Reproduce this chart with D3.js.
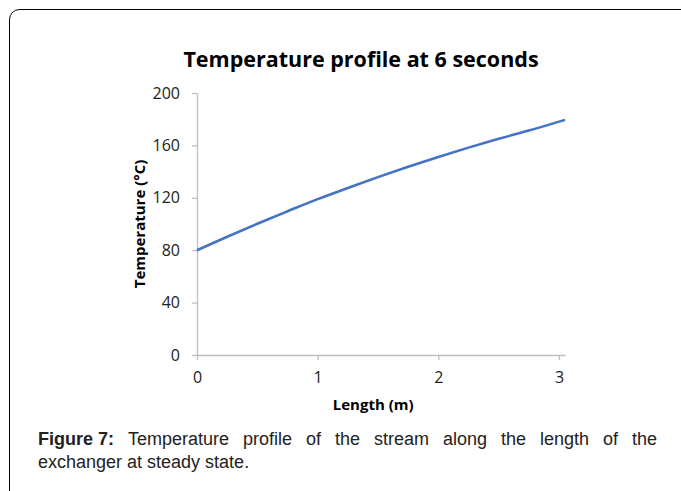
<!DOCTYPE html>
<html>
<head>
<meta charset="utf-8">
<script src="https://cdn.jsdelivr.net/npm/d3@7"></script>
<style>
  body { margin: 0; background: #fff; }
</style>
</head>
<body>
<div id="chart-area"></div>
<script>
// values
let lengths = [0, 0.25, 0.5, 0.75, 1, 1.25, 1.5, 1.75, 2, 2.25, 2.5, 2.75, 3.05];
let temps = [80, 90.3, 100.2, 109.7, 119, 127.5, 135.8, 143.7, 151.2, 158.3, 165, 171.3, 179.5];
let xTicks = [0, 1, 2, 3];
let yTicks = [0, 40, 80, 120, 160, 200];

let W = 681, H = 491;
let margin = { left: 197, right: 116, top: 93, bottom: 136 };
let width = W - margin.left - margin.right,
    height = H - margin.top - margin.bottom;

let svg = d3.select("#chart-area")
    .append("svg")
        .attr("width", W)
        .attr("height", H);

// frame round the figure
svg.append("rect")
    .attr("x", 9.5)
    .attr("y", 9.5)
    .attr("width", 720)
    .attr("height", 520)
    .attr("rx", 10)
    .attr("fill", "none")
    .attr("stroke", "#000")
    .attr("stroke-width", 1);

svg.append("text")
    .attr("x", 361)
    .attr("y", 67)
    .attr("text-anchor", "middle")
    .attr("font-family", "Open Sans")
    .attr("font-weight", "bold")
    .attr("font-size", "21.5px")
    .text("Temperature profile at 6 seconds");

let g = svg.append("g")
    .attr("transform", `translate( ${margin.left}, ${margin.top} )`);

let x = d3.scaleLinear()
    .domain([0, 3.05])
    .range([0, width]);

let y = d3.scaleLinear()
    .domain([0, 200])
    .range([height, 0]);

let xAxisCall = d3.axisBottom(x)
    .tickValues(xTicks)
    .tickSize(5)
    .tickSizeOuter(0)
    .tickPadding(12)
    .tickFormat(d3.format("d"));

let yAxisCall = d3.axisLeft(y)
    .tickValues(yTicks)
    .tickSize(5)
    .tickSizeOuter(0)
    .tickPadding(12);

let xAx = g.append("g")
    .attr("class", "x axis")
    .attr("transform", `translate(0, ${height})`)
    .call(xAxisCall);

let yAx = g.append("g")
    .attr("class", "y axis")
    .call(yAxisCall);

[xAx, yAx].forEach((a) => {
    a.selectAll("path, line").attr("stroke", "#bfbfbf").attr("stroke-width", 1.3);
    a.selectAll("text")
        .attr("font-family", "Open Sans")
        .attr("font-size", "16px")
        .attr("fill", "#222");
});

g.append("text")
    .attr("x", x(1.46))
    .attr("y", height + 55)
    .attr("text-anchor", "middle")
    .attr("font-family", "Open Sans")
    .attr("font-weight", "bold")
    .attr("font-size", "15px")
    .text("Length (m)");

g.append("text")
    .attr("x", -(height / 2))
    .attr("y", -52)
    .attr("text-anchor", "middle")
    .attr("transform", "rotate(-90)")
    .attr("font-family", "Open Sans")
    .attr("font-weight", "bold")
    .attr("font-size", "15px")
    .text("Temperature (\u00B0C)");

let pts = lengths.map((d, i) => [d, temps[i]]);
let line = d3.line()
    .x((d) => x(d[0]))
    .y((d) => y(d[1]))
    .curve(d3.curveMonotoneX);

g.append("path")
    .datum(pts)
    .attr("d", line)
    .attr("fill", "none")
    .attr("stroke", "#4472c4")
    .attr("stroke-width", 2.6);

// caption, first line justified between the two edges
let capLeft = 38, capRight = 657;
let line1 = [["Figure 7:", true], ["Temperature", false], ["profile", false], ["of", false],
             ["the", false], ["stream", false], ["along", false], ["the", false],
             ["length", false], ["of", false], ["the", false]];

let words = svg.selectAll(".cap1")
    .data(line1)
    .enter()
    .append("text")
        .attr("class", "cap1")
        .attr("y", 445)
        .attr("font-family", "Liberation Sans, Arial, sans-serif")
        .attr("font-size", "18px")
        .attr("font-weight", (d) => d[1] ? "bold" : "normal")
        .attr("fill", "#222")
        .text((d) => d[0]);

let widths = [];
words.each(function() { widths.push(this.getComputedTextLength()); });
let gap = (capRight - capLeft - d3.sum(widths)) / (widths.length - 1);
let cx = capLeft;
words.attr("x", (d, i) => {
    let p = cx;
    cx += widths[i] + gap;
    return p;
});

svg.append("text")
    .attr("x", capLeft)
    .attr("y", 468)
    .attr("font-family", "Liberation Sans, Arial, sans-serif")
    .attr("font-size", "18px")
    .attr("fill", "#222")
    .text("exchanger at steady state.");
</script>
</body>
</html>
